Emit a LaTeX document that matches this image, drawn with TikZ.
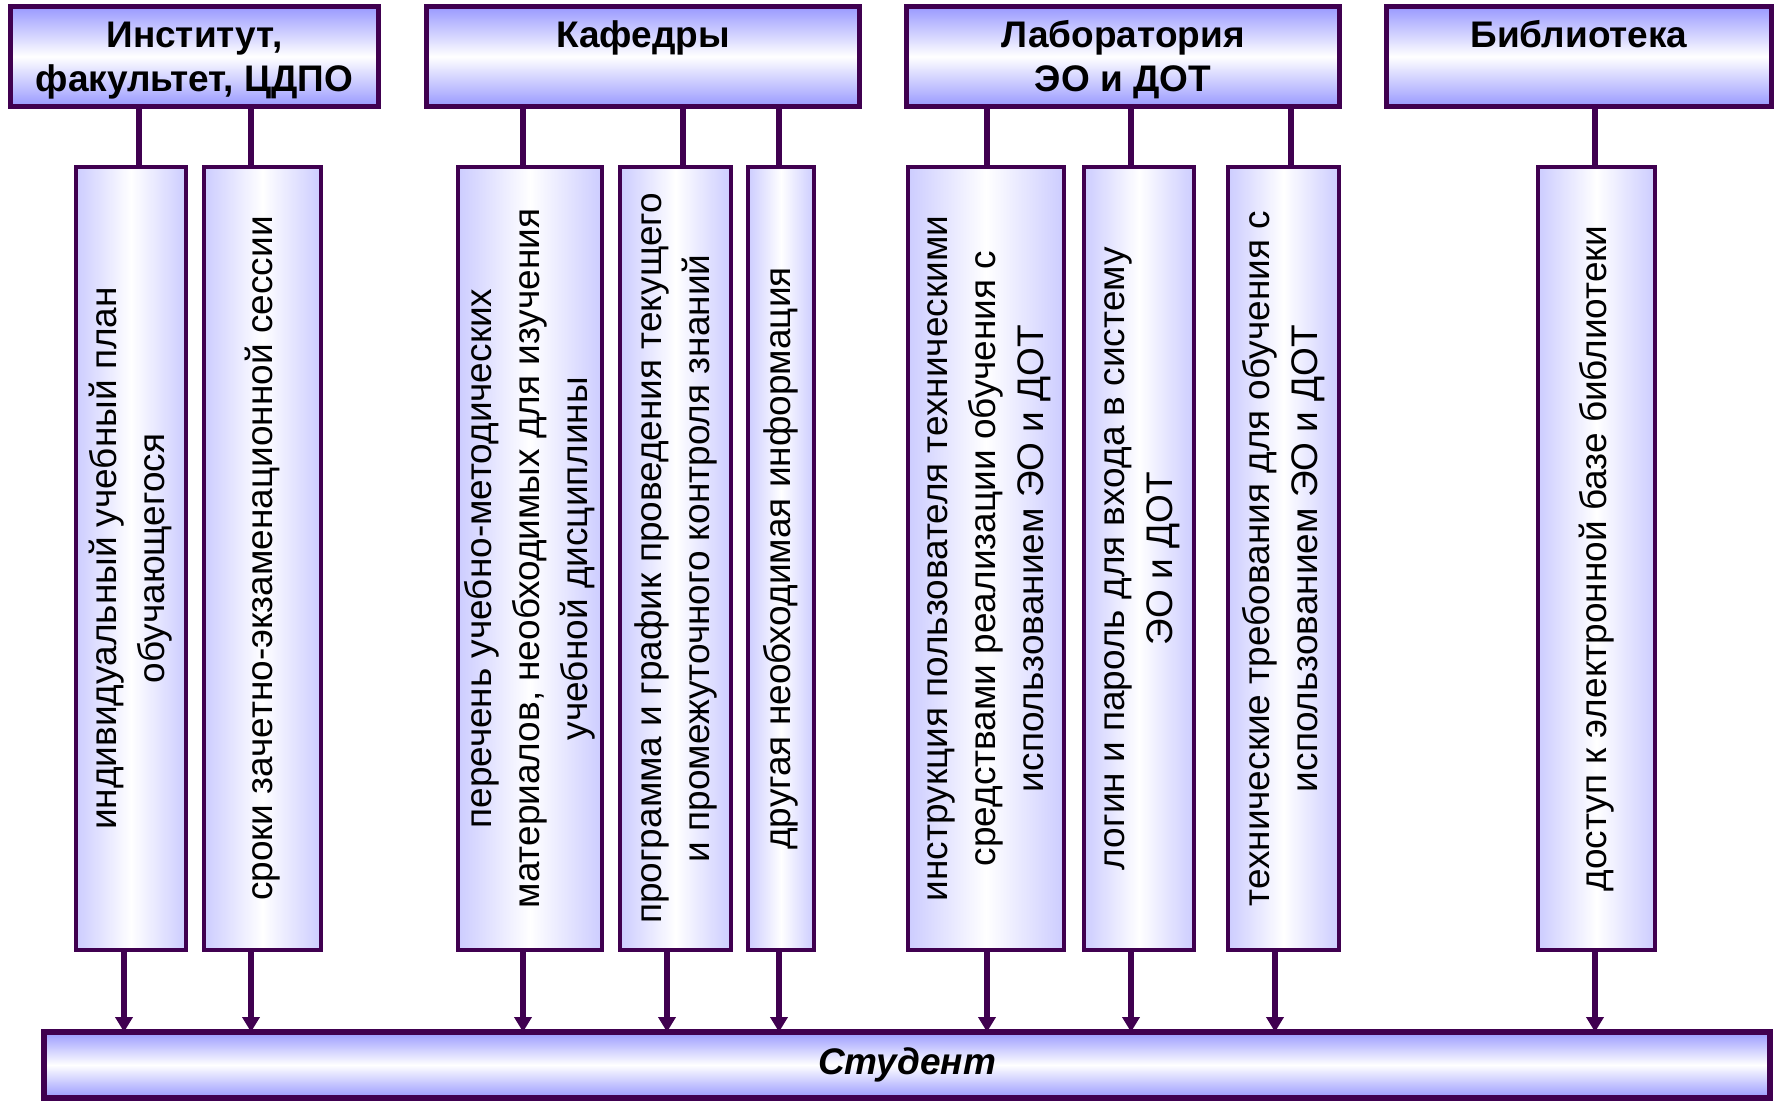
\documentclass[tikz,border=0pt]{standalone}
\usepackage{fontspec}
\setmainfont{Liberation Sans}
\usepackage{graphicx}
\usepackage{tikz}
\usetikzlibrary{arrows.meta}
\usetikzlibrary{calc}
\definecolor{frame}{RGB}{64,0,80}
\definecolor{hdblue}{RGB}{153,153,255}
\definecolor{lav}{RGB}{204,204,255}
\tikzstyle{head}=[draw=frame,line width=5pt,top color=hdblue,bottom color=hdblue,middle color=white,
                 minimum height=100pt,inner sep=0,outer sep=0,align=center,
                 font=\bfseries\fontsize{37}{44}\selectfont]
\tikzstyle{twoline}=[text height=74pt,text depth=3pt]
\tikzstyle{oneline}=[text height=30pt,text depth=47pt]
\tikzstyle{vbox}=[draw=frame,line width=4pt,left color=lav,right color=lav,middle color=white,
                 minimum height=783pt,inner sep=0,outer sep=0,font=\fontsize{37}{48}\selectfont]
\tikzstyle{stud}=[draw=frame,line width=6pt,top color=hdblue,bottom color=hdblue,middle color=white,
                 minimum width=1726pt,minimum height=66pt,inner sep=0,outer sep=0,
                 font=\bfseries\itshape\fontsize{37}{44}\selectfont]
\tikzstyle{link}=[draw=frame,line width=5.5pt]
\tikzstyle{arr}=[link,-{Triangle[length=15pt,width=17pt]}]
\newcommand{\vtxt}[1]{\rotatebox{90}{\begin{tabular}{@{}c@{}}#1\end{tabular}}}

\begin{document}
\begin{tikzpicture}[x=1pt,y=-1pt]
\useasboundingbox (0,0) rectangle (1778,1102);
\node[head,twoline,minimum width=368pt] (inst) at (194.5,56.5) {Институт,\\факультет, ЦДПО};
\node[head,oneline,minimum width=433pt] (kaf) at (643,56.5) {Кафедры};
\node[head,twoline,minimum width=433pt] (lab) at (1123,56.5) {Лаборатория\\ЭО и ДОТ};
\node[head,oneline,minimum width=385pt] (bib) at (1579,56.5) {Библиотека};

\node[vbox,minimum width=110pt] (v1) at (131,558.5) {\vtxt{индивидуальный учебный план\\обучающегося}};
\node[vbox,minimum width=117pt] (v2) at (262.5,558.5) {\vtxt{сроки зачетно-экзаменационной сессии}};
\node[vbox,minimum width=142pt] (v3) at (530,558.5) {\vtxt{перечень учебно-методических\\материалов, необходимых для изучения\\учебной дисциплины}};
\node[vbox,minimum width=111pt] (v4) at (675.5,558.5) {\vtxt{программа и график проведения текущего\\и промежуточного контроля знаний}};
\node[vbox,minimum width=66pt] (v5) at (781,558.5) {\vtxt{другая необходимая информация}};
\node[vbox,minimum width=156pt] (v6) at (986,558.5) {\vtxt{инструкция пользователя техническими\\средствами реализации обучения с\\использованием ЭО и ДОТ}};
\node[vbox,minimum width=110pt] (v7) at (1139,558.5) {\vtxt{логин и пароль для входа в систему\\ЭО и ДОТ}};
\node[vbox,minimum width=111pt] (v8) at (1283.5,558.5) {\vtxt{технические требования для обучения с\\использованием ЭО и ДОТ}};
\node[vbox,minimum width=117pt] (v9) at (1596.5,558.5) {\vtxt{доступ к электронной базе библиотеки}};

\node[stud] (stud) at (907,1065) {Студент};

\foreach \x/\h/\v in {139/inst/v1,251/inst/v2,523/kaf/v3,683/kaf/v4,779/kaf/v5,
                      987/lab/v6,1131/lab/v7,1291/lab/v8,1595/bib/v9}
  \draw[link] (\x,0 |- \h.south) -- (\x,0 |- \v.north);
\foreach \x/\v in {124/v1,251/v2,523/v3,667/v4,779/v5,987/v6,1131/v7,1275/v8,1595/v9}
  \draw[arr] (\x,0 |- \v.south) -- (\x,0 |- stud.north);
\end{tikzpicture}
\end{document}
